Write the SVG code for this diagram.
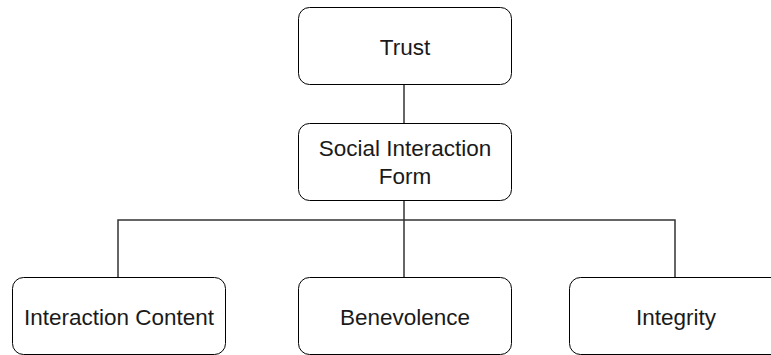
<svg xmlns="http://www.w3.org/2000/svg" width="771" height="355" viewBox="0 0 771 355">
<style>
.box{fill:#fff;stroke:#000;stroke-width:1}
.t{font-family:"Liberation Sans",Arial,sans-serif;font-size:22.5px;fill:#1a1a1a;text-anchor:middle}
.c{fill:none;stroke:#333;stroke-width:1.5}
</style>
<rect width="771" height="355" fill="#fff"/>
<g id="connectors">
<line class="c" x1="404" y1="85" x2="404" y2="123"/>
<line class="c" x1="404" y1="201" x2="404" y2="277"/>
<polyline class="c" points="118,277 118,220 675,220 675,277"/>
</g>
<g id="trust"><rect class="box" x="298.5" y="7.5" width="213" height="77" rx="11"/><text class="t" x="405" y="55">Trust</text></g>
<g id="social"><rect class="box" x="298.5" y="123.5" width="213" height="77" rx="11"/><text class="t" x="405" y="156">Social Interaction</text><text class="t" x="405" y="184">Form</text></g>
<g id="content"><rect class="box" x="12.5" y="277.5" width="213" height="77" rx="11"/><text class="t" x="119" y="325">Interaction Content</text></g>
<g id="benevolence"><rect class="box" x="298.5" y="277.5" width="213" height="77" rx="11"/><text class="t" x="405" y="325">Benevolence</text></g>
<g id="integrity"><rect class="box" x="569.5" y="277.5" width="213" height="77" rx="11"/><text class="t" x="676" y="325">Integrity</text></g>
</svg>
